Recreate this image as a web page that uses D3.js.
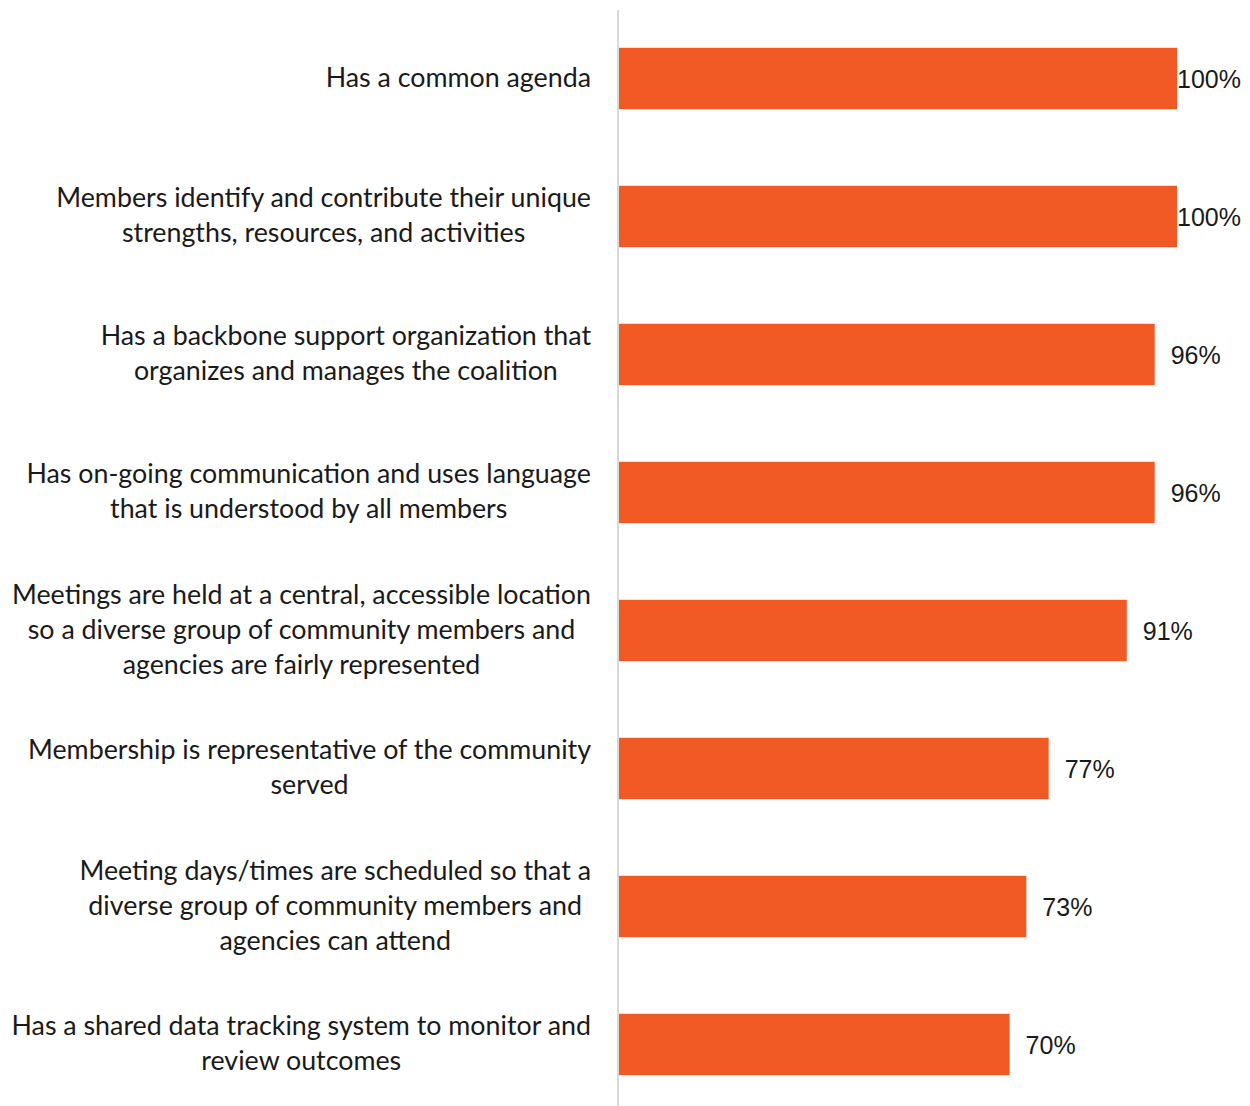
<!DOCTYPE html>
<html>
<head>
<meta charset="utf-8">
<script src="https://cdn.jsdelivr.net/npm/d3@7"></script>
<style>
  html, body { margin: 0; padding: 0; background: #ffffff; }
  svg { display: block; }
</style>
</head>
<body>
<svg id="chart" width="1250" height="1106"></svg>
<script>
// Coalition characteristics and the share of respondents reporting each
const categories = [
  ["Has a common agenda"],
  ["Members identify and contribute their unique", "strengths, resources, and activities"],
  ["Has a backbone support organization that", "organizes and manages the coalition"],
  ["Has on-going communication and uses language", "that is understood by all members"],
  ["Meetings are held at a central, accessible location", "so a diverse group of community members and", "agencies are fairly represented"],
  ["Membership is representative of the community", "served"],
  ["Meeting days/times are scheduled so that a", "diverse group of community members and", "agencies can attend"],
  ["Has a shared data tracking system to monitor and", "review outcomes"]
];
const values = [100, 100, 96, 96, 91, 77, 73, 70];
const valueLabels = ["100%", "100%", "96%", "96%", "91%", "77%", "73%", "70%"];

const W = 1250, H = 1106;
const axisX = 619;
const labelRight = 591;
const lineH = 35;

const svg = d3.select("#chart");

const x = d3.scaleLinear().domain([0, 100]).range([axisX, 1177]);
const y = d3.scaleBand()
  .domain(d3.range(categories.length))
  .range([9.5, 1113.5])
  .paddingInner(0.555)
  .paddingOuter(0.2775);

// bars
svg.append("g")
  .selectAll("rect")
  .data(values)
  .join("rect")
  .attr("x", x(0))
  .attr("y", (d, i) => y(i))
  .attr("width", d => x(d) - x(0))
  .attr("height", y.bandwidth())
  .attr("fill", "#f15a24");

// vertical category axis line
svg.append("line")
  .attr("x1", 618).attr("x2", 618)
  .attr("y1", 10).attr("y2", H)
  .attr("stroke", "#d9d9d9")
  .attr("stroke-width", 2);

// category labels: each block is centred on its widest line, right edge at labelRight
const labelFont = "Lato, 'Source Sans Pro', sans-serif";
const catG = svg.append("g")
  .attr("font-family", labelFont)
  .attr("font-size", 26.8)
  .attr("fill", "#1a1a1a");

categories.forEach((lines, i) => {
  const cy = y(i) + y.bandwidth() / 2;
  const t = catG.append("text").attr("text-anchor", "middle");
  const n = lines.length;
  lines.forEach((ln, j) => {
    t.append("tspan")
      .attr("y", cy + (j - (n - 1) / 2) * lineH - 1)
      .attr("dy", "0.35em")
      .text(ln);
  });
  const maxW = d3.max(t.selectAll("tspan").nodes(), nd => nd.getComputedTextLength());
  t.selectAll("tspan").attr("x", labelRight - maxW / 2);
});

// value labels
const valG = svg.append("g")
  .attr("font-family", "'Liberation Sans', Arial, sans-serif")
  .attr("font-size", 25)
  .attr("fill", "#1a1a1a");

values.forEach((v, i) => {
  const t = valG.append("text")
    .attr("y", y(i) + y.bandwidth() / 2 + 1)
    .attr("dy", "0.35em")
    .text(valueLabels[i]);
  const w = t.node().getComputedTextLength();
  t.attr("x", Math.min(x(v) + 16, W - 9 - w));
});
</script>
</body>
</html>
